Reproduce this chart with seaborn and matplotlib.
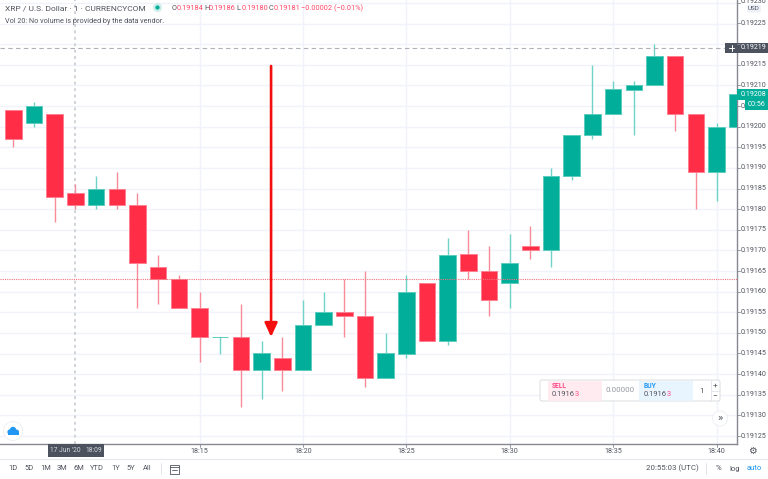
import numpy as np
import pandas as pd
import matplotlib
matplotlib.use("Agg")
import matplotlib.pyplot as plt
from matplotlib.patches import Rectangle, FancyBboxPatch, Circle
import seaborn as sns

opens = [0.19204,0.19201,0.19203,0.19184,0.19181,0.19185,0.19181,0.19166,0.19163,0.19156,0.19149,0.19149,
         0.19141,0.19144,0.19141,0.19152,0.19155,0.19154,0.19139,0.19145,0.19162,0.19148,0.19169,0.19165,
         0.19162,0.19171,0.19170,0.19188,0.19198,0.19203,0.19209,0.19210,0.19217,0.19203,0.19189,0.19200]
highs = [0.19204,0.19206,0.19203,0.19186,0.19188,0.19189,0.19184,0.19169,0.19164,0.19160,0.19149,0.19157,
         0.19148,0.19149,0.19158,0.19160,0.19163,0.19165,0.19150,0.19164,0.19162,0.19173,0.19175,0.19171,
         0.19174,0.19176,0.19190,0.19198,0.19215,0.19211,0.19211,0.19220,0.19217,0.19203,0.19201,0.19208]
lows  = [0.19195,0.19200,0.19177,0.19180,0.19180,0.19180,0.19156,0.19157,0.19156,0.19143,0.19145,0.19132,
         0.19134,0.19136,0.19141,0.19152,0.19149,0.19137,0.19139,0.19144,0.19148,0.19147,0.19163,0.19154,
         0.19156,0.19168,0.19166,0.19187,0.19197,0.19203,0.19198,0.19210,0.19199,0.19180,0.19182,0.19200]
closes= [0.19197,0.19205,0.19183,0.19181,0.19185,0.19181,0.19167,0.19163,0.19156,0.19149,0.19149,0.19141,
         0.19145,0.19141,0.19152,0.19155,0.19154,0.19139,0.19145,0.19160,0.19148,0.19169,0.19165,0.19158,
         0.19167,0.19170,0.19188,0.19198,0.19203,0.19209,0.19210,0.19217,0.19203,0.19189,0.19200,0.19208]
first_minute = 6  # candle 0 is 18:06
price_ticks = [0.19125,0.19130,0.19135,0.19140,0.19145,0.19150,0.19155,0.19160,0.19165,0.19170,0.19175,
               0.19180,0.19185,0.19190,0.19195,0.19200,0.19205,0.19210,0.19215,0.19220,0.19225,0.19230]
time_labels = ["18:15","18:20","18:25","18:30","18:35","18:40"]
time_minutes = [15,20,25,30,35,40]
cross_price = 0.19219
bid_price = 0.19163
cross_minute = 9
arrow_minute = 18.46
arrow_start, arrow_end = 0.192147, 0.19149

GREEN, RED = "#00ae9a", "#ff2d46"
GRID = "#f0f3fa"
TXT = "#50535e"
F = "Roboto"

sns.set_theme(style="white")
plt.rcParams["font.family"] = [F, "DejaVu Sans"]

W, H = 768, 479
fig = plt.figure(figsize=(W/100, H/100), dpi=100, facecolor="white")
ax = fig.add_axes([0, 35/H, 737/W, 444/H])

df = pd.DataFrame({"minute": first_minute + np.arange(len(opens)),
                   "open": opens, "high": highs, "low": lows, "close": closes})
df["top"] = df[["open", "close"]].max(axis=1)
df["bot"] = df[["open", "close"]].min(axis=1)
df["h"] = df["top"] - df["bot"]
up = df[df["close"] >= df["open"]]
dn = df[df["close"] < df["open"]]

for sub, col, wick, edge in [(up, GREEN, "#6fd3c7", "#5cccbf"), (dn, RED, "#f98a98", "#ff7f90")]:
    ax.vlines(sub["minute"], sub["low"], sub["high"], color=wick, lw=1.0, zorder=3)
    sns.barplot(data=sub, x="minute", y="h", bottom=sub["bot"].to_numpy(), native_scale=True,
                width=0.8, color=col, saturation=1, edgecolor=edge, linewidth=0.7,
                errorbar=None, ax=ax, zorder=4)

px = 1/4.125e5
ax.set_ylim(0.19125 + (436-444)*px, 0.19125 + 436*px)
ax.set_xlim(first_minute - 13.4/20.68, first_minute + (737-13.4)/20.68)
ax.set_yticks(price_ticks)
ax.set_xticks(time_minutes)
ax.set_yticklabels([])
ax.set_xticklabels([])
ax.set_xlabel(""); ax.set_ylabel("")
ax.grid(True, color=GRID, lw=1.0, zorder=0)
ax.set_axisbelow(True)
ax.tick_params(length=0)
for s in ["top", "left"]:
    ax.spines[s].set_visible(False)
for s in ["right", "bottom"]:
    ax.spines[s].set_color("#868993"); ax.spines[s].set_linewidth(1.0)

ax.axhline(cross_price, color="#aeb1b9", lw=0.8, ls=(0, (4, 3)), zorder=5)
ax.axhline(bid_price, color="#f4707f", lw=0.8, ls=(0, (1, 1)), zorder=5)
ax.axvline(cross_minute, color="#d0d3d9", lw=1.4, ls=(0, (1.5, 1.8)), zorder=2)
ax.annotate("", xy=(arrow_minute, arrow_end), xytext=(arrow_minute, arrow_start),
            arrowprops=dict(arrowstyle="-|>,head_length=0.7,head_width=0.32", color="#f40f0f",
                            lw=1.9, shrinkA=0, shrinkB=0), zorder=6)

# UI overlay in pixel coordinates
ov = fig.add_axes([0, 0, 1, 1], zorder=10)
ov.set_xlim(0, W); ov.set_ylim(H, 0); ov.axis("off"); ov.patch.set_alpha(0)
def T(x, y, s, size=5.1, c=TXT, ha="left", **k):
    ov.text(x, y, s, fontsize=size, color=c, ha=ha, va="center", family=[F, "DejaVu Sans"], **k)
def R(x, y, w, h, c, **k):
    ov.add_patch(Rectangle((x, y), w, h, fc=c, ec="none", **k))

def yp(p):
    return 436 - (p - 0.19125) * 4.125e5
for p in price_ticks:
    y = yp(p)
    ov.plot([737, 740], [y, y], color="#868993", lw=.6)
    if abs(p - 0.19220) < 1e-7:      # hidden behind the crosshair label
        continue
    if abs(p - 0.19205) < 1e-7:      # only its start shows beside the countdown
        T(741, y, "0.")
        continue
    T(741, y - (1.2 if abs(p - 0.19230) < 1e-7 else 0), f"{p:.5f}")
for m, lab in zip(time_minutes, time_labels):
    x = 199.5 + (m - 15) * 20.68
    T(x, 451.5, lab, ha="center")
    ov.plot([x, x], [444, 447], color="#868993", lw=.6)

# header
T(5, 8, "XRP / U.S. Dollar · 1 · CURRENCYCOM", size=6.05)
ov.add_patch(Circle((157.5, 7.5), 4.5, fc="#cdeeea", ec="none"))
ov.add_patch(Circle((157.5, 7.5), 2.1, fc=GREEN, ec="none"))
x = 172
for lab, val in [("O","0.19184"),("H","0.19186"),("L","0.19180"),("C","0.19181")]:
    T(x, 8, lab, size=5.3); T(x+4.8, 8, val, size=5.3, c="#ff4a68"); x += 32.3
T(x, 8, "−0.00002 (−0.01%)", size=5.3, c="#ff4a68")
T(5, 21, "Vol 20: No volume is provided by the data vendor.", size=5.25)

# USD
ov.add_patch(FancyBboxPatch((747, 4.5), 14, 8, boxstyle="round,pad=0,rounding_size=2", fc="#eef1f8", ec="none"))
T(754, 8.8, "USD", ha="center", size=4.5)

# price labels
R(725, 43, 43, 9.5, "#4c525e")
ov.plot([729, 734], [47.7, 47.7], color="white", lw=.7); ov.plot([731.5, 731.5], [45, 50.5], color="white", lw=.7)
T(741, 47.7, "0.19219", c="white")
R(737, 88.5, 31, 11, GREEN); T(741, 94, "0.19208", c="white")
R(745, 99.5, 23, 10, GREEN); T(748, 104.5, "00:56", c="white")

# time label
R(47.5, 444, 56.5, 13, "#4c525e")
T(50.5, 450.5, "17 Jun '20", size=4.8, c="#d8dae0"); T(85, 450.5, "18:09", size=4.8, c="#d8dae0")

# separators
ov.plot([0, W], [458.5, 458.5], color="#e6e8ee", lw=.8)
ov.plot([160.5, 160.5], [463, 474], color="#e0e3eb", lw=.7)
ov.plot([705.5, 705.5], [463, 474], color="#e0e3eb", lw=.7)

# bottom toolbar
for x, s in zip([13, 29, 45.5, 62, 78.5, 97, 115.5, 131, 147],
                ["1D","5D","1M","3M","6M","YTD","1Y","5Y","All"]):
    T(x, 468.5, s, ha="center", size=5.4)
ov.add_patch(Rectangle((169.5, 464.5), 9, 9, fc="none", ec=TXT, lw=.6))
ov.plot([169.5, 178.5], [467, 467], color=TXT, lw=.6)
ov.plot([172, 177], [470, 470], color=TXT, lw=.6)
T(672, 468.5, "20:55:03 (UTC)", ha="center", size=5.7)
T(718, 468.5, "%", ha="center", size=5.7)
T(735, 468.5, "log", ha="center", size=5.5)
T(754.5, 468.5, "auto", ha="center", size=5.5, c="#2196f3")
T(752.5, 451.5, "\u2699", ha="center", size=7, c=TXT)

# buy/sell widget
ov.add_patch(FancyBboxPatch((540, 380), 180, 21, boxstyle="round,pad=0,rounding_size=2",
                            fc="white", ec="#d5d7dd", lw=.6))
R(548, 380.5, 54, 20, "#ffebf0")
R(639, 380.5, 54, 20, "#e9f5fe")
T(552, 386, "SELL", size=4.9, c="#ff4a88", weight="bold")
T(552, 394.5, "0.1916", size=5.4); T(574.5, 394.5, "3", size=5.4, c="#ff4a88")
T(620.5, 390.5, "0.00000", size=5.7, ha="center", c="#9598a1")
T(644, 386, "BUY", size=4.9, c="#2196f3", weight="bold")
T(644, 394.5, "0.1916", size=5.4); T(666.5, 394.5, "3", size=5.4, c="#ff4a88")
T(701.5, 391, "1", size=5.7, ha="center")
ov.plot([710.5, 710.5], [380, 401], color="#e0e3eb", lw=.6)
ov.plot([711, 720], [390.5, 390.5], color="#e0e3eb", lw=.6)
T(715, 385.5, "+", size=6, ha="center"); T(715, 395.5, "−", size=6, ha="center")
ov.add_patch(Circle((720, 418.5), 7.5, fc="white", ec="#eceef2", lw=.6))
T(720, 418, "»", size=8, ha="center")
# cloud
ov.add_patch(Circle((13, 431), 9.5, fc="white", ec="#eceef2", lw=.6))
for cx, cy, r in [(10, 432, 2.6), (13, 430, 3.2), (16.5, 432, 2.5)]:
    ov.add_patch(Circle((cx, cy), r, fc="#2196f3", ec="none"))
R(7.5, 432, 11.5, 2.5, "#2196f3")

fig.savefig("out.png", dpi=100)
